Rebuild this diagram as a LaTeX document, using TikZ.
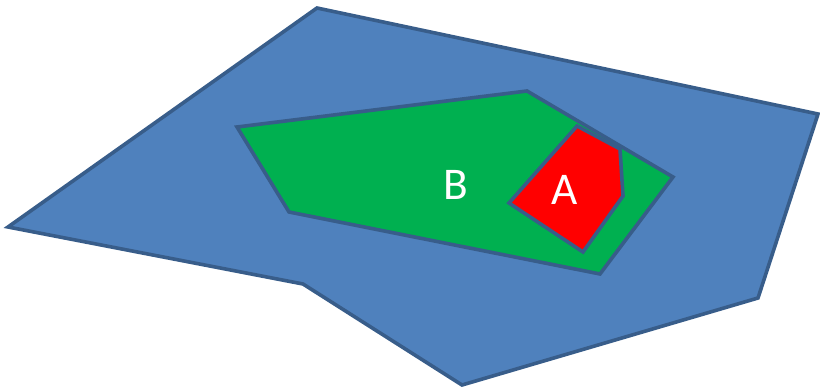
\documentclass[tikz,border=0pt]{standalone}
\usepackage{fontspec}
\setmainfont{Carlito}
\definecolor{bluefill}{HTML}{4F81BD}
\definecolor{edge}{HTML}{385D8A}
\definecolor{greenfill}{HTML}{00B050}
\definecolor{redfill}{HTML}{FF0000}
\tikzset{
  region/.style={draw=edge, line width=2.7pt, line join=miter},
  lbl/.style={text=white, font=\fontsize{34}{38}\selectfont, inner sep=0pt}
}
\begin{document}
\begin{tikzpicture}[x=0.75pt, y=-0.75pt]
\useasboundingbox (0,0) rectangle (820,388);
\fill[white] (0,0) rectangle (820,388);
\draw[region, fill=bluefill] (317,8) -- (818,114) -- (758,298) -- (462,385) -- (303,284) -- (8,227) -- cycle;
\draw[region, fill=greenfill] (237,127) -- (527,91) -- (673,177) -- (600,274) -- (289,212) -- cycle;
\draw[region, fill=redfill] (577,126) -- (620,149) -- (623,196) -- (583,252) -- (509,203) -- cycle;
\node[lbl] (B) at (456,185) {B};
\node[lbl] (A) at (565,190) {A};
\end{tikzpicture}
\end{document}
